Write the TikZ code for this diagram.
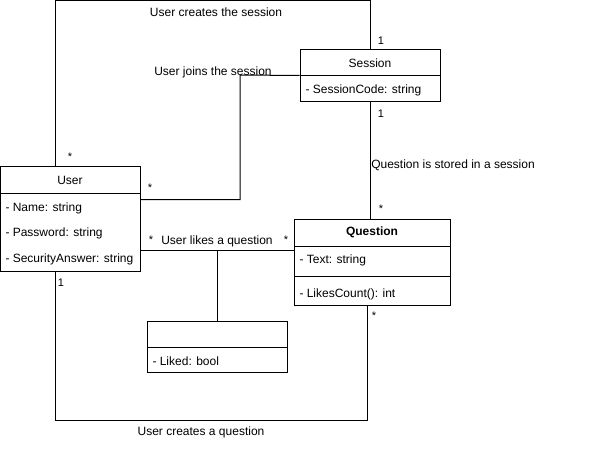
\documentclass[tikz,border=0pt]{standalone}
\usepackage{fontspec}
\setmainfont{Liberation Sans}
\usetikzlibrary{positioning}
\tikzset{every picture/.style={x=1pt,y=-1pt,line width=1pt,every node/.style={font=\fontsize{12}{14}\selectfont}}}
\tikzset{
  head/.style={draw, minimum height=26pt, inner sep=0pt},
  part/.style={draw, inner sep=0pt},
  attr/.style={anchor=west, inner sep=0pt},
  lbl/.style={inner sep=0pt},
  mult/.style={inner sep=0pt, font=\fontsize{11}{13}\selectfont}
}

\begin{document}
\begin{tikzpicture}
\useasboundingbox (0,0) rectangle (591,449);

          % classes
          \node[head, minimum width=140pt] (user) at (70,180){User};
          \node[part, minimum width=140pt, minimum height=78pt] (userbody) at (70,232){};
          \node[attr] (uname) at (5,208){- Name: string};
          \node[attr] (upass) at (5,233){- Password: string};
          \node[attr] (uanswer) at (5,259){- SecurityAnswer: string};

          \node[head, minimum width=140pt] (session) at (370,63){Session};
          \node[part, minimum width=140pt, minimum height=26pt] (sessionbody) at (370,89){};
          \node[attr] (scode) at (305,90){- SessionCode: string};

          \node[head, minimum width=156pt, minimum height=27pt, font=\fontsize{12}{14}\selectfont\bfseries] (question) at (372,232.5){Question};
          \node[part, minimum width=156pt, minimum height=30pt] (qbody) at (372,261){};
          \node[part, minimum width=156pt, minimum height=29pt] (qops) at (372,290.5){};
          \node[attr] (qtext) at (299,260){- Text: string};
          \node[attr] (qcount) at (299,294){- LikesCount(): int};

          \node[head, minimum width=140pt] (liked) at (217,334){};
          \node[part, minimum width=140pt, minimum height=25pt] (likedbody) at (217,359.5){};
          \node[attr] (lflag) at (152,361){- Liked: bool};

          % associations
          \coordinate (likeend) at ([yshift=-5pt]qbody.north west);
          \draw ([xshift=-15pt]user.north) -- ++(0,-166) -| (session.north);
          \draw ([yshift=-7pt]userbody.north east) -| (240,75) -- ([yshift=1pt]session.south west);
          \draw (sessionbody.south) -- (sessionbody.south |- question.north);
          \draw (likeend -| userbody.east) -- (likeend);
          \draw (liked.north) -- (liked.north |- likeend);
          \draw ([xshift=-15pt]userbody.south) -- ++(0,149) -| ([xshift=-5pt]qops.south);

          % labels
          \node[lbl] (l1) at (216,12){User creates the session};
          \node[lbl] (l2) at (213,72){User joins the session};
          \node[lbl] (l3) at (453,165){Question is stored in a session};
          \node[lbl] (l4) at (217,241){User likes a question};
          \node[lbl] (l5) at (201,432){User creates a question};

          \node[mult] (m1) at (381,41){1};
          \node[mult] (m2) at (70,157){*};
          \node[mult] (m3) at (150,188){*};
          \node[mult] (m4) at (381,114){1};
          \node[mult] (m5) at (381,209){*};
          \node[mult] (m6) at (151,240){*};
          \node[mult] (m7) at (286,240){*};
          \node[mult] (m8) at (61,283){1};
          \node[mult] (m9) at (374,316){*};

        \end{tikzpicture}
\end{document}
